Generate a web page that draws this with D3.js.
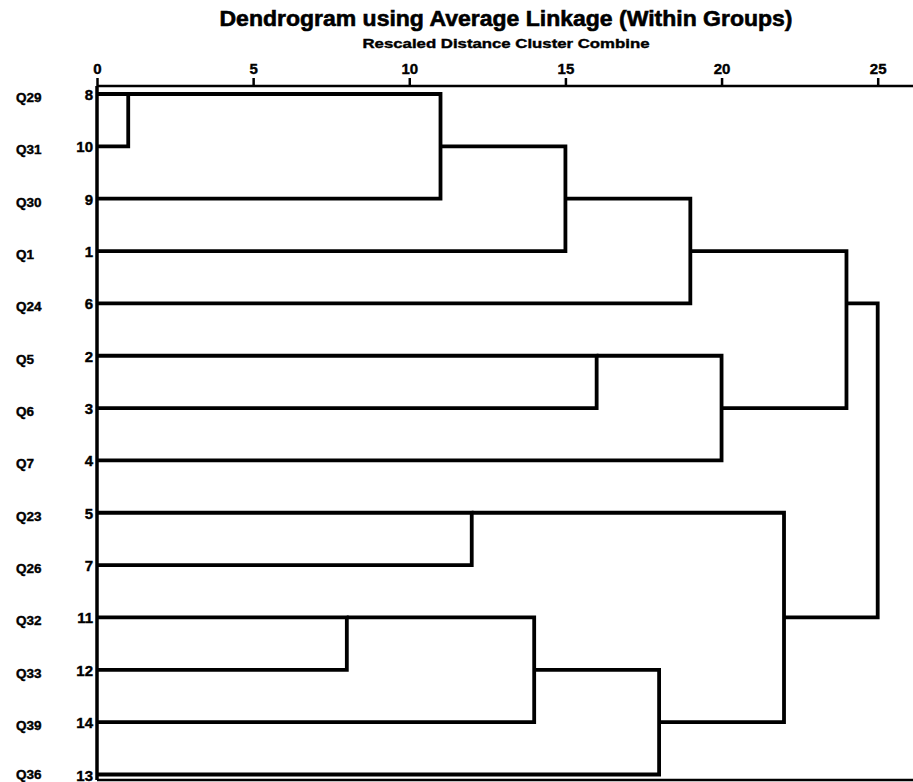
<!DOCTYPE html>
<html>
<head>
<meta charset="utf-8">
<script src="https://cdn.jsdelivr.net/npm/d3@7"></script>
<style>
  body { margin: 0; background: #fff; }
  text { font-family: "Liberation Sans", Arial, sans-serif; font-weight: bold; fill: #000; }
</style>
</head>
<body>
<div id="chart"></div>
<script>
// case labels, by case number (1..14)
const caseNames = ["Q1", "Q5", "Q6", "Q7", "Q23", "Q24", "Q26", "Q29", "Q30", "Q31", "Q32", "Q33", "Q36", "Q39"];
// order of the leaves from top to bottom
const leafOrder = [8, 10, 9, 1, 6, 2, 3, 4, 5, 7, 11, 12, 14, 13];
// agglomeration schedule (rescaled distance 0-25)
const stageA    = [8, 11, 8,  5,  11, 1,  2,  11, 1,  2,  5,  1,  1];
const stageB    = [10, 12, 9, 7,  14, 8,  3,  13, 6,  4,  11, 2,  5];
const stageDist = [1,  8,  11, 12, 14, 15, 16, 18, 19, 20, 22, 24, 25];
const distTicks = [0, 5, 10, 15, 20, 25];

const width = 913, height = 782;
const margin = { top: 86, left: 97, bottom: 2 };

const svg = d3.select("#chart").append("svg")
    .attr("width", width)
    .attr("height", height);

const x = d3.scaleLinear()
    .domain([0, 25])
    .range([margin.left, 877.7]);

const y = d3.scaleLinear()
    .domain([0, leafOrder.length - 1])
    .range([94, 774.5]);

// titulo
svg.append("text")
    .attr("x", 506)
    .attr("y", 26)
    .attr("text-anchor", "middle")
    .attr("textLength", 573)
    .attr("lengthAdjust", "spacingAndGlyphs")
    .style("font-size", "22px")
    .style("stroke", "#000")
    .style("stroke-width", 0.6)
    .text("Dendrogram using Average Linkage (Within Groups)");

svg.append("text")
    .attr("x", 506)
    .attr("y", 48)
    .attr("text-anchor", "middle")
    .attr("textLength", 287)
    .attr("lengthAdjust", "spacingAndGlyphs")
    .style("font-size", "13px")
    .style("stroke", "#000")
    .style("stroke-width", 0.4)
    .text("Rescaled Distance Cluster Combine");

// eje superior
const axis = svg.append("g")
    .attr("transform", "translate(0," + margin.top + ")")
    .call(d3.axisTop(x).tickValues(distTicks).tickSize(8).tickSizeOuter(0).tickPadding(4))
    .attr("font-size", 15)
    .attr("font-family", "'Liberation Sans', Arial, sans-serif");

axis.select(".domain").remove();
axis.selectAll(".tick line").attr("stroke", "#000").attr("stroke-width", 2.5);
axis.selectAll(".tick text")
    .style("font-size", "15px")
    .style("font-weight", "bold")
    .style("stroke", "#000")
    .style("stroke-width", 0.4);

// marco: linea superior, izquierda e inferior
svg.append("line")
    .attr("x1", x(0)).attr("x2", width)
    .attr("y1", margin.top).attr("y2", margin.top)
    .attr("stroke", "#000").attr("stroke-width", 2.5);

svg.append("line")
    .attr("x1", x(0)).attr("x2", x(0))
    .attr("y1", margin.top).attr("y2", height - margin.bottom)
    .attr("stroke", "#000").attr("stroke-width", 3.5);

svg.append("line")
    .attr("x1", x(0)).attr("x2", width)
    .attr("y1", height - margin.bottom).attr("y2", height - margin.bottom)
    .attr("stroke", "#000").attr("stroke-width", 2.5);

// etiquetas de las hojas
const leaves = svg.append("g");
leaves.selectAll(".name")
    .data(leafOrder)
    .enter().append("text")
    .attr("class", "name")
    .attr("x", 16)
    .attr("y", (d, i) => Math.min(y(i) + 8, height - 3))
    .style("font-size", "13.5px")
    .style("stroke", "#000")
    .style("stroke-width", 0.4)
    .text(d => caseNames[d - 1]);

leaves.selectAll(".num")
    .data(leafOrder)
    .enter().append("text")
    .attr("class", "num")
    .attr("x", x(0) - 4)
    .attr("y", (d, i) => y(i) + 6)
    .attr("text-anchor", "end")
    .style("font-size", "15px")
    .style("stroke", "#000")
    .style("stroke-width", 0.4)
    .text(d => d);

// construir los enlaces a partir del calendario de aglomeracion
const pos = new Map();
leafOrder.forEach((c, i) => pos.set(c, { row: i, h: 0 }));

const links = [];
stageA.forEach((a, k) => {
    const b = stageB[k], h = stageDist[k];
    const A = pos.get(a), B = pos.get(b);
    links.push([[A.h, A.row], [h, A.row], [h, B.row], [B.h, B.row]]);
    pos.set(a, { row: Math.floor((A.row + B.row) / 2), h: h });
});

const line = d3.line()
    .x(d => x(d[0]))
    .y(d => y(d[1]));

svg.append("g").selectAll("path")
    .data(links)
    .enter().append("path")
    .attr("d", line)
    .attr("fill", "none")
    .attr("stroke", "#000")
    .attr("stroke-width", 3.8)
    .attr("stroke-linejoin", "miter");
</script>
</body>
</html>
